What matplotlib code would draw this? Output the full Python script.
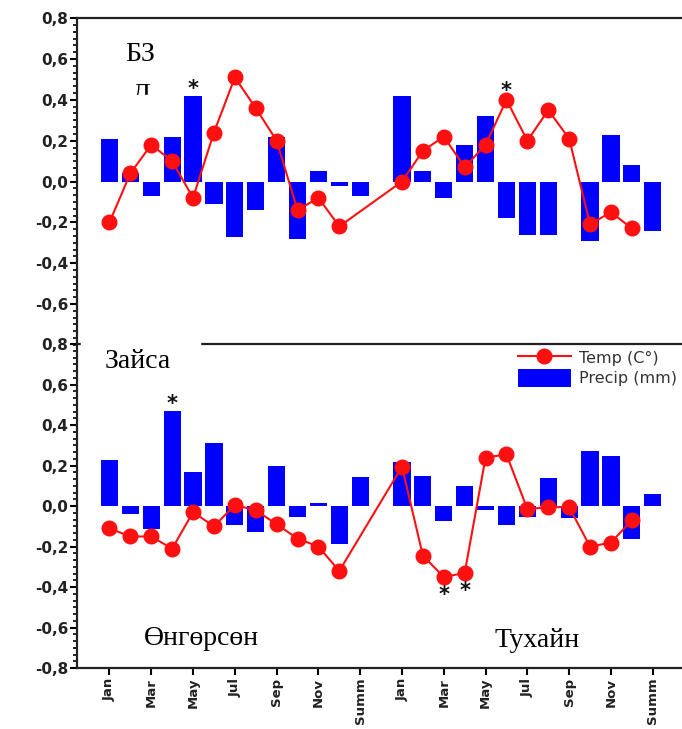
import numpy as np
import matplotlib.pyplot as plt
from matplotlib.ticker import MultipleLocator, AutoMinorLocator
from matplotlib.patches import Rectangle

nan = np.nan
months = ['Jan', 'Feb', 'Mar', 'Apr', 'May', 'Jun', 'Jul', 'Aug',
          'Sep', 'Oct', 'Nov', 'Dec', 'Summ', '']
categories = months + months

# upper panel (БЗ)
bz_precip = [0.21, 0.04, -0.07, 0.22, 0.42, -0.11, -0.27, -0.14, 0.22, -0.28, 0.05, -0.02, -0.07, nan,
             0.42, 0.05, -0.08, 0.18, 0.32, -0.18, -0.26, -0.26, nan, -0.29, 0.23, 0.08, -0.24, nan]
bz_temp = [-0.20, 0.04, 0.18, 0.10, -0.08, 0.24, 0.51, 0.36, 0.20, -0.14, -0.08, -0.22, nan, nan,
           0.00, 0.15, 0.22, 0.07, 0.18, 0.40, 0.20, 0.35, 0.21, -0.21, -0.15, -0.23, nan, nan]

# lower panel (Зайса)
za_precip = [0.23, -0.04, -0.115, 0.47, 0.17, 0.31, -0.095, -0.13, 0.20, -0.055, 0.015, -0.185, 0.145, nan,
             0.22, 0.15, -0.075, 0.10, -0.02, -0.095, -0.055, 0.14, -0.06, 0.27, 0.245, -0.16, 0.06, nan]
za_temp = [-0.11, -0.15, -0.15, -0.21, -0.03, -0.10, 0.005, -0.02, -0.09, -0.16, -0.20, -0.32, nan, nan,
           0.195, -0.245, -0.35, -0.33, 0.24, 0.255, -0.015, -0.005, -0.005, -0.20, -0.18, -0.07, nan, nan]

# significant points: (index, series)
bz_stars = [(4, 'precip'), (19, 'temp')]
za_stars = [(3, 'precip'), (16, 'temp_low'), (17, 'temp_low')]

yticks = [0.8, 0.6, 0.4, 0.2, 0.0, -0.2, -0.4, -0.6, -0.8]

plt.rcParams['font.family'] = ['DejaVu Sans']
serif = ['Liberation Serif', 'DejaVu Serif']

fig = plt.figure(figsize=(6.82, 7.29), dpi=100)
ax1 = fig.add_axes([0.113, 0.527, 0.887, 0.448])
ax2 = fig.add_axes([0.113, 0.0835, 0.887, 0.4445])

x = np.arange(len(categories))


def draw(ax, precip, temp, stars):
    p = np.array(precip, dtype=float)
    t = np.array(temp, dtype=float)
    ok = ~np.isnan(t)
    ax.plot(x[ok], t[ok], '-o', color='#ff1010', lw=1.5, ms=10.5, zorder=3,
            label='Temp (C°)')
    ok = ~np.isnan(p)
    ax.bar(x[ok], p[ok], width=0.82, color='#0000ff', zorder=2, label='Precip (mm)')
    for i, kind in stars:
        if kind == 'precip':
            y = p[i] + 0.035
        elif kind == 'temp':
            y = t[i] + 0.045
        else:
            y = t[i] - 0.09
        ax.text(i, y, '*', ha='center', va='center', fontsize=15,
                fontweight='bold', color='#111111', zorder=4)
    ax.set_xlim(-1.55, 27.4)
    ax.set_ylim(-0.8, 0.8)
    ax.yaxis.set_major_locator(MultipleLocator(0.2))
    ax.yaxis.set_minor_locator(AutoMinorLocator(6))
    ax.tick_params(axis='y', which='major', length=5, width=1.5, labelsize=11, pad=1.5)
    ax.tick_params(axis='y', which='minor', length=3, width=1.2)
    ax.spines['right'].set_visible(False)
    for s in ax.spines.values():
        s.set_linewidth(1.6)
        s.set_color('#222222')


draw(ax1, bz_precip, bz_temp, bz_stars)
draw(ax2, za_precip, za_temp, za_stars)

fmt = lambda v: ('%.1f' % v).replace('.', ',')
ax1.set_yticks(yticks[:-1])
ax1.set_yticklabels([fmt(v) for v in yticks[:-1]], fontweight='bold', color='#222222')
ax2.set_yticks(yticks)
ax2.set_yticklabels([fmt(v) for v in yticks], fontweight='bold', color='#222222')

ax1.spines['bottom'].set_visible(False)
ax1.set_xticks([])

ax2.set_xticks(x[0:27:2])
ax2.set_xticklabels(categories[0:27:2], rotation=90, fontsize=9.5, fontweight='bold',
                    color='#222222')
ax2.tick_params(axis='x', length=5, width=1.5, pad=2)

# panel labels
ax1.text(0.08, 0.87, 'БЗ', transform=ax1.transAxes, fontsize=20, family=serif, zorder=5)
ax1.text(0.09, 0.745, 'Д', transform=ax1.transAxes, fontsize=20, family=serif, zorder=5)
ax1.add_patch(Rectangle((0.07, 0.66), 0.1, 0.105, transform=ax1.transAxes,
                        color='white', zorder=6))
ax2.add_patch(Rectangle((0.006, 0.95), 0.198, 0.07, transform=ax2.transAxes,
                        color='white', zorder=6, clip_on=False))
ax2.text(0.045, 0.925, 'Зайса', transform=ax2.transAxes, fontsize=20, family=serif, zorder=7)
ax2.text(0.11, 0.07, 'Өнгөрсөн', transform=ax2.transAxes, fontsize=20, family=serif, zorder=5)
ax2.text(0.69, 0.065, 'Тухайн', transform=ax2.transAxes, fontsize=20, family=serif, zorder=5)

leg = ax2.legend(loc='upper right', bbox_to_anchor=(1.015, 1.03), frameon=False,
                 fontsize=11.5, handlelength=3.3, handleheight=1.3, labelspacing=0.2,
                 handletextpad=0.5)
for txt in leg.get_texts():
    txt.set_color('#333333')

fig.savefig('out.png', dpi=100)
